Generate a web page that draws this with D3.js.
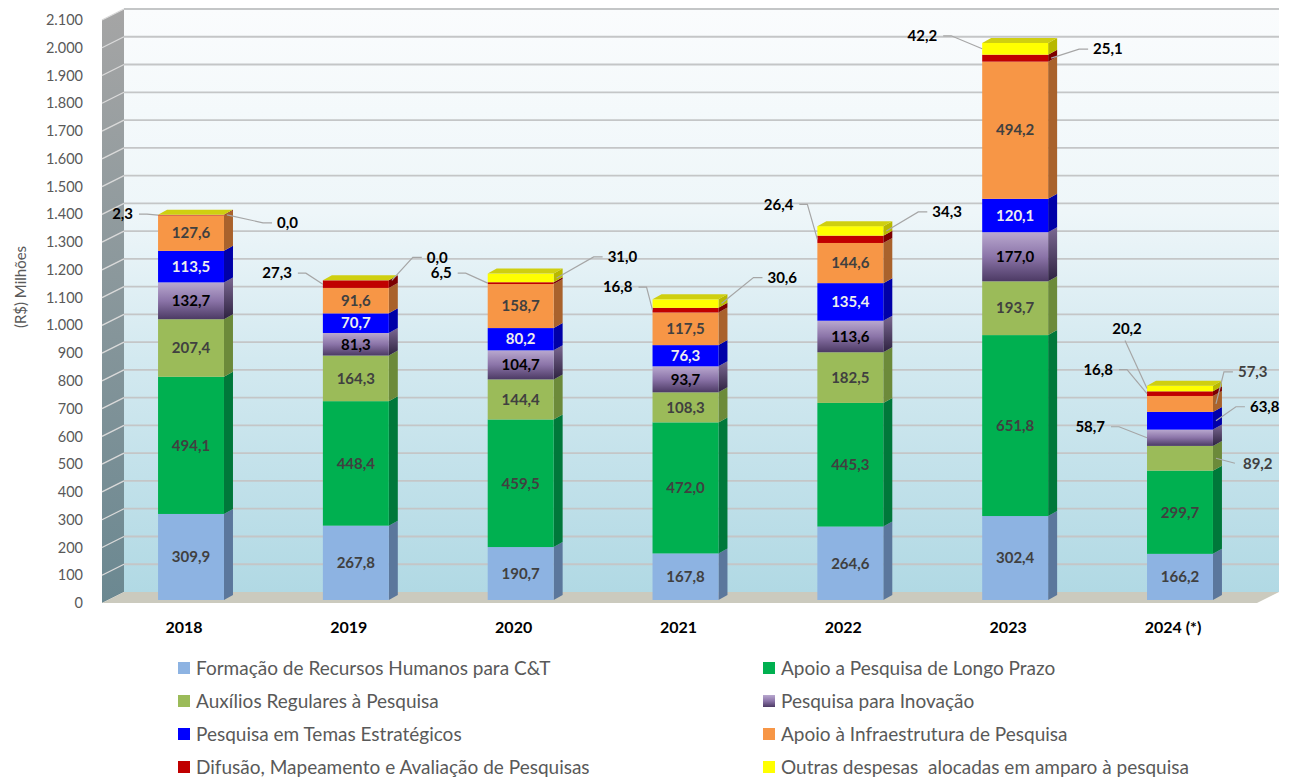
<!DOCTYPE html>
<meta charset="utf-8">
<script src="https://cdn.jsdelivr.net/npm/d3@7"></script>
<style>
  body { margin: 0; background: #fff; }
  text { font-family: Lato, "Open Sans", sans-serif; }
</style>
<svg id="chart" width="1292" height="781"></svg>
<script>

// Data
var years = ["2018", "2019", "2020", "2021", "2022", "2023", "2024 (*)"];
var seriesNames = [
  "Formação de Recursos Humanos para C&T",
  "Apoio a Pesquisa de Longo Prazo",
  "Auxílios Regulares à Pesquisa",
  "Pesquisa para Inovação",
  "Pesquisa em Temas Estratégicos",
  "Apoio à Infraestrutura de Pesquisa",
  "Difusão, Mapeamento e Avaliação de Pesquisas",
  "Outras despesas  alocadas em amparo à pesquisa"
];
var formacao   = [309.9, 267.8, 190.7, 167.8, 264.6, 302.4, 166.2];
var longoPrazo = [494.1, 448.4, 459.5, 472.0, 445.3, 651.8, 299.7];
var auxilios   = [207.4, 164.3, 144.4, 108.3, 182.5, 193.7, 89.2];
var inovacao   = [132.7, 81.3, 104.7, 93.7, 113.6, 177.0, 58.7];
var temas      = [113.5, 70.7, 80.2, 76.3, 135.4, 120.1, 63.8];
var infra      = [127.6, 91.6, 158.7, 117.5, 144.6, 494.2, 57.3];
var difusao    = [2.3, 27.3, 6.5, 16.8, 26.4, 25.1, 16.8];
var outras     = [0.0, 0.0, 31.0, 30.6, 34.3, 42.2, 20.2];
var yTicks = d3.range(0, 2101, 100);

// Callout labels (series index, year) placed outside the bars, offset from the bar edge
var callouts = [
  { year: "2018", s: 6, side: "L", dx: -25, dy: -1 },
  { year: "2018", s: 7, side: "R", dx: 50, dy: 8 },
  { year: "2019", s: 6, side: "L", dx: -31, dy: -11 },
  { year: "2019", s: 7, side: "R", dx: 35, dy: -23 },
  { year: "2020", s: 6, side: "L", dx: -36, dy: -10 },
  { year: "2020", s: 7, side: "R", dx: 51, dy: -21 },
  { year: "2021", s: 6, side: "L", dx: -20, dy: -23 },
  { year: "2021", s: 7, side: "R", dx: 46, dy: -26 },
  { year: "2022", s: 6, side: "L", dx: -24, dy: -35 },
  { year: "2022", s: 7, side: "R", dx: 46, dy: -19 },
  { year: "2023", s: 7, side: "L", dx: -45, dy: -13 },
  { year: "2023", s: 6, side: "R", dx: 42, dy: -9 },
  { year: "2024 (*)", s: 7, side: "T", dx: -20, dy: -60 },
  { year: "2024 (*)", s: 6, side: "L", dx: -34, dy: -24 },
  { year: "2024 (*)", s: 5, side: "R", dx: 22, dy: -32, grey: true },
  { year: "2024 (*)", s: 4, side: "R", dx: 34, dy: -14 },
  { year: "2024 (*)", s: 3, side: "L", dx: -42, dy: -11 },
  { year: "2024 (*)", s: 2, side: "S", dx: 27, dy: 5, grey: true }
];

// Styles
var frontColors = ["#8db3e2", "#00b050", "#9bbb59", "url(#purpleFront)", "#0000ff", "#f79646", "#c00000", "#ffff00"];
var sideColors  = ["#5b779c", "#00783a", "#6c8a3a", "url(#purpleSide)", "#0000a8", "#a9622c", "#7c0000", "#b8b800"];
var legendColors = ["#8db3e2", "#00b050", "#9bbb59", "url(#purpleFront)", "#0000ff", "#f79646", "#c00000", "#ffff00"];
var innerText = ["#404040", "#404040", "#404040", "#000000", "#eeeeee", "#404040"];

var svg = d3.select("#chart");
var locale = d3.formatLocale({ decimal: ",", thousands: ".", grouping: [3], currency: ["R$", ""] });
var fmtTick = locale.format(",.0f");
var fmtVal = locale.format(",.1f");

var keys = ["formacao", "longoPrazo", "auxilios", "inovacao", "temas", "infra", "difusao", "outras"];
var cols = [formacao, longoPrazo, auxilios, inovacao, temas, infra, difusao, outras];
var table = years.map(function(yr, i) {
  var row = { year: yr };
  keys.forEach(function(k, j) { row[k] = cols[j][i]; });
  return row;
});
var stacked = d3.stack().keys(keys)(table);

// 3D geometry
var wallDx = 22, wallDy = -11;
var barDx = 9, barDy = -5;
var left = 102, right = 1257;

var y = d3.scaleLinear().domain([0, 2100]).range([603, 20]);
function yBar(v) { return y(v) - 3; }
var x = d3.scaleBand().domain(years).range([108.6, 1262.4]).paddingInner(0.6).paddingOuter(0.3);
var bw = x.bandwidth();

// Gradients
var defs = svg.append("defs");
function vgrad(id, stops) {
  var g = defs.append("linearGradient").attr("id", id).attr("x1", 0).attr("y1", 0).attr("x2", 0).attr("y2", 1);
  stops.forEach(function(s) { g.append("stop").attr("offset", s[0]).attr("stop-color", s[1]); });
}
vgrad("wallGrad", [[0, "#fafcfd"], [0.35, "#eef6f9"], [0.6, "#d3e9f0"], [1, "#b1d9e4"]]);
vgrad("sideGrad", [[0, "#a5a5a5"], [1, "#6b8891"]]);
vgrad("purpleFront", [[0, "#b9a8cf"], [0.5, "#8b74a8"], [1, "#4c3a64"]]);
vgrad("purpleSide", [[0, "#7b6892"], [1, "#2e2240"]]);

// Back wall
svg.append("rect")
  .attr("x", left + wallDx).attr("y", y(2100) + wallDy)
  .attr("width", right - left).attr("height", y(0) - y(2100))
  .attr("fill", "url(#wallGrad)");

// Side wall
svg.append("path")
  .attr("d", "M" + left + "," + y(0) + "L" + (left + wallDx) + "," + (y(0) + wallDy) +
             "L" + (left + wallDx) + "," + (y(2100) + wallDy) + "L" + left + "," + y(2100) + "Z")
  .attr("fill", "url(#sideGrad)");

// Floor
svg.append("path")
  .attr("d", "M" + left + "," + y(0) + "L" + (left + wallDx) + "," + (y(0) + wallDy) +
             "L" + (right + wallDx) + "," + (y(0) + wallDy) + "L" + right + "," + y(0) + "Z")
  .attr("fill", "#cbcabe");

// Gridlines
svg.append("g").selectAll("line")
  .data(yTicks.filter(function(d) { return d > 0; }))
  .enter().append("line")
    .attr("x1", left + wallDx).attr("x2", right + wallDx)
    .attr("y1", function(d) { return y(d) + wallDy; })
    .attr("y2", function(d) { return y(d) + wallDy; })
    .attr("stroke", "#c4c6c7").attr("stroke-width", 1.8);

svg.append("g").selectAll("line")
  .data(yTicks.filter(function(d) { return d > 0; }))
  .enter().append("line")
    .attr("x1", left).attr("x2", left + wallDx)
    .attr("y1", function(d) { return y(d); })
    .attr("y2", function(d) { return y(d) + wallDy; })
    .attr("stroke", "#dadada").attr("stroke-width", 1.3);

// Y tick labels
svg.append("g").selectAll("text")
  .data(yTicks)
  .enter().append("text")
    .attr("x", 83).attr("y", function(d) { return y(d); })
    .attr("dy", "0.35em").attr("text-anchor", "end")
    .attr("font-size", 14.5).attr("fill", "#595959")
    .text(function(d) { return fmtTick(d); });

svg.append("text")
  .attr("transform", "translate(21,287) rotate(-90)")
  .attr("text-anchor", "middle").attr("dy", "0.35em")
  .attr("font-size", 15).attr("fill", "#595959")
  .text("(R$) Milhões");

// Bars
var barsG = svg.append("g");
stacked.forEach(function(layer, si) {
  var g = barsG.append("g");
  g.selectAll("path")
    .data(layer)
    .enter().append("path")
      .attr("d", function(d) {
        var x1 = x(d.data.year) + bw, t = yBar(d[1]), b = yBar(d[0]);
        return "M" + x1 + "," + t + "L" + (x1 + barDx) + "," + (t + barDy) +
               "L" + (x1 + barDx) + "," + (b + barDy) + "L" + x1 + "," + b + "Z";
      })
      .attr("fill", sideColors[si]);
  g.selectAll("rect")
    .data(layer)
    .enter().append("rect")
      .attr("x", function(d) { return x(d.data.year); })
      .attr("y", function(d) { return yBar(d[1]); })
      .attr("width", bw)
      .attr("height", function(d) { return yBar(d[0]) - yBar(d[1]); })
      .attr("fill", frontColors[si]);
});

// Top faces
barsG.append("g").selectAll("path")
  .data(stacked[stacked.length - 1])
  .enter().append("path")
    .attr("d", function(d) {
      var x0 = x(d.data.year), t = yBar(d[1]);
      return "M" + x0 + "," + t + "L" + (x0 + barDx) + "," + (t + barDy) +
             "L" + (x0 + bw + barDx) + "," + (t + barDy) + "L" + (x0 + bw) + "," + t + "Z";
    })
    .attr("fill", "#cfcf10");

// Inner value labels
function isCallout(yr, si) {
  return callouts.some(function(c) { return c.year === yr && c.s === si; });
}
stacked.slice(0, 6).forEach(function(layer, si) {
  svg.append("g").selectAll("text")
    .data(layer.filter(function(d) { return !isCallout(d.data.year, si); }))
    .enter().append("text")
      .attr("x", function(d) { return x(d.data.year) + bw / 2; })
      .attr("y", function(d) { return (yBar(d[0]) + yBar(d[1])) / 2; })
      .attr("dy", "0.35em").attr("text-anchor", "middle")
      .attr("font-size", 15).attr("font-weight", "bold")
      .attr("fill", innerText[si])
      .text(function(d) { return fmtVal(d[1] - d[0]); });
});

// Callouts with leader lines
var cg = svg.append("g");
callouts.forEach(function(c) {
  var d = stacked[c.s].find(function(e) { return e.data.year === c.year; });
  var ay = (yBar(d[0]) + yBar(d[1])) / 2;
  var ax = (c.side === "L" || c.side === "T") ? x(c.year) : x(c.year) + bw + 3;
  var lx = ax + c.dx, ly = ay + c.dy;
  var pts, anchor;
  if (c.side === "L") {
    pts = [[ax, ay], [lx + 14, ly], [lx + 6, ly]]; anchor = "end";
  } else if (c.side === "R") {
    pts = [[ax, ay], [lx - 14, ly], [lx - 5, ly]]; anchor = "start";
  } else if (c.side === "T") {
    pts = [[ax, ay], [lx - 2, ly + 12]]; anchor = "middle";
  } else {
    pts = [[ax, ay], [lx - 8, ly]]; anchor = "start";
  }
  cg.append("path")
    .attr("d", d3.line()(pts))
    .attr("fill", "none").attr("stroke", "#a6a6a6").attr("stroke-width", 1.2);
  cg.append("text")
    .attr("x", lx).attr("y", ly).attr("dy", "0.35em")
    .attr("text-anchor", anchor)
    .attr("font-size", 15).attr("font-weight", "bold")
    .attr("fill", c.grey ? "#404040" : "#000")
    .text(fmtVal(d[1] - d[0]));
});

// Category labels
svg.append("g").selectAll("text")
  .data(years)
  .enter().append("text")
    .attr("x", function(d) { return x(d) + bw / 2 - 7; })
    .attr("y", 627).attr("dy", "0.35em")
    .attr("text-anchor", "middle")
    .attr("font-size", 16).attr("font-weight", "bold").attr("fill", "#000")
    .text(function(d) { return d; });

// Legend
var legend = svg.append("g").selectAll("g")
  .data(seriesNames)
  .enter().append("g")
    .attr("transform", function(d, i) {
      return "translate(" + (i % 2 === 0 ? 178 : 763) + "," + (668 + Math.floor(i / 2) * 33) + ")";
    });
legend.append("rect")
  .attr("x", 0).attr("y", -6).attr("width", 12).attr("height", 12)
  .attr("fill", function(d, i) { return legendColors[i]; });
legend.append("text")
  .attr("x", 18).attr("y", 0).attr("dy", "0.35em")
  .attr("font-size", 19).attr("fill", "#595959")
  .style("white-space", "pre")
  .text(function(d) { return d; });

</script>
